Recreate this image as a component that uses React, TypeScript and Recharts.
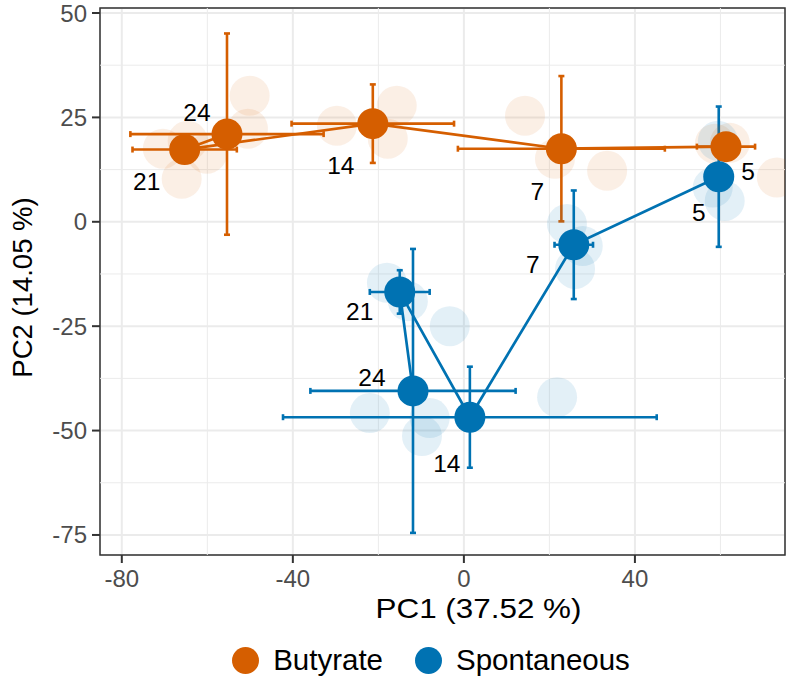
import {
  CartesianGrid,
  ErrorBar,
  Label,
  Legend,
  ReferenceArea,
  ReferenceLine,
  Scatter,
  ScatterChart,
  XAxis,
  YAxis,
} from "recharts";

// sampling days, same order for both groups
const days = [5, 7, 14, 21, 24];

// group means (PC1, PC2) with error bar half-widths
const butyrateX = [61.3, 22.8, -21.3, -65.3, -55.4];
const butyrateY = [18.0, 17.5, 23.5, 17.3, 21.0];
const butyrateXErr = [6.8, 24.2, 19.0, 12.2, 22.6];
const butyrateYErr = [2.0, 17.4, 9.4, 2.0, 24.1];

const spontaneousX = [59.6, 25.7, 1.4, -15.0, -11.9];
const spontaneousY = [10.8, -5.5, -46.8, -16.8, -40.5];
const spontaneousXErr = [2.0, 4.5, 43.7, 7.0, 24.0];
const spontaneousYErr = [16.8, 13.0, 12.1, 5.2, 34.0];

// individual replicates (faint points)
const butyrateRepX = [-70.4, -66.0, -64.6, -50.1, -50.5, -60.1, -29.7, -15.7, -17.8, 14.3, 21.3, 33.5, 73.2, 62.2, 58.7];
const butyrateRepY = [17.5, 10.3, 19.4, 30.2, 22.3, 16.3, 23.0, 27.8, 19.9, 25.4, 15.1, 12.2, 10.6, 18.9, 18.7];
const spontaneousRepX = [59.4, 61.0, 58.2, 24.1, 26.0, 27.8, -18.0, -13.1, -3.3, -22.0, -8.0, -9.8, 21.8];
const spontaneousRepY = [19.4, 5.0, 8.2, -0.5, -11.3, -5.8, -14.6, -19.0, -25.0, -45.8, -47.0, -51.3, -42.0];

const xTicks = [-80, -40, 0, 40];
const yTicks = [-75, -50, -25, 0, 25, 50];
const xMinor = [-60, -20, 20, 60];
const yMinor = [-62.5, -37.5, -12.5, 12.5, 37.5];
const xDomain = [-85.1, 75.1];
const yDomain = [-79.8, 51.2];

const ORANGE = "#D55E00";
const BLUE = "#0072B2";
const FONT = "'Liberation Sans', Arial, Helvetica, sans-serif";

// where each day label sits relative to its point (ggrepel-like)
const labelOffset: Record<string, [number, number]> = {
  "b-5": [22, 25],
  "b-7": [-24, 43],
  "b-14": [-32, 42],
  "b-21": [-38, 32],
  "b-24": [-30, -22],
  "s-5": [-20, 36],
  "s-7": [-41, 20],
  "s-14": [-23, 46],
  "s-21": [-40, 20],
  "s-24": [-41, -13],
};

const toMeans = (xs: number[], ys: number[], ex: number[], ey: number[]) =>
  days.map((day, i) => ({ day, x: xs[i], y: ys[i], ex: ex[i], ey: ey[i] }));
const toReps = (xs: number[], ys: number[]) => xs.map((x, i) => ({ x, y: ys[i] }));

const butyrate = toMeans(butyrateX, butyrateY, butyrateXErr, butyrateYErr);
const spontaneous = toMeans(spontaneousX, spontaneousY, spontaneousXErr, spontaneousYErr);
const butyrateReps = toReps(butyrateRepX, butyrateRepY);
const spontaneousReps = toReps(spontaneousRepX, spontaneousRepY);

const dot = (r: number, color: string, opacity = 1) => (p: any) =>
  <circle cx={p.cx} cy={p.cy} r={r} fill={color} fillOpacity={opacity} />;

const dayLabel = (group: string) => (p: any) => {
  const [dx, dy] = labelOffset[`${group}-${p.payload.day}`] || [0, 0];
  return (
    <text x={p.cx + dx} y={p.cy + dy} textAnchor="middle" dominantBaseline="central"
      fontSize={24.5} fontFamily={FONT} fill="#000">
      {p.payload.day}
    </text>
  );
};

const legendItems = [
  { name: "Butyrate", color: ORANGE },
  { name: "Spontaneous", color: BLUE },
];

function LegendBox() {
  return (
    <div style={{ height: 60, display: "flex", justifyContent: "center", alignItems: "center", gap: 32, paddingLeft: 77, paddingTop: 4, boxSizing: "border-box", fontFamily: FONT }}>
      {legendItems.map((it) => (
        <div key={it.name} style={{ display: "flex", alignItems: "center", gap: 14 }}>
          <span style={{ width: 27, height: 27, borderRadius: "50%", background: it.color, display: "inline-block" }} />
          <span style={{ fontSize: 29.5, lineHeight: "32px", color: "#000" }}>{it.name}</span>
        </div>
      ))}
    </div>
  );
}

const yTitle = (props: any) => {
  const vb = props.viewBox;
  const cx = vb.x + 22;
  const cy = vb.y + vb.height / 2 + 6;
  return (
    <text x={cx} y={cy} transform={`rotate(-90, ${cx}, ${cy})`} textAnchor="middle"
      dominantBaseline="central" fontSize={27.5} fontFamily={FONT} fill="#000">
      PC2 (14.05 %)
    </text>
  );
};

const xTitle = (props: any) => {
  const vb = props.viewBox;
  return (
    <text x={vb.x + vb.width / 2 + 36} y={vb.y + 53} textAnchor="middle" dominantBaseline="central"
      fontSize={27.5} textLength={206} lengthAdjust="spacingAndGlyphs" fontFamily={FONT} fill="#000">
      PC1 (37.52 %)
    </text>
  );
};

const tickStyle = { fontSize: 24, fill: "#4D4D4D", fontFamily: FONT };

export default function App() {
  return (
    <div style={{ width: 788, height: 688 }}>
      <style>{"body{margin:0}"}</style>
      <ScatterChart width={788} height={688} margin={{ top: 8, right: 3, bottom: 0, left: 0 }}>
        <CartesianGrid stroke="#EBEBEB" strokeWidth={2} />
        {xMinor.map((v) => (
          <ReferenceLine key={`vx${v}`} x={v} stroke="#EBEBEB" strokeWidth={1} />
        ))}
        {yMinor.map((v) => (
          <ReferenceLine key={`hy${v}`} y={v} stroke="#EBEBEB" strokeWidth={1} />
        ))}
        <XAxis type="number" dataKey="x" domain={xDomain} ticks={xTicks} allowDataOverflow
          height={73} axisLine={false} tickSize={8} tickMargin={7}
          tickLine={{ stroke: "#333333", strokeWidth: 2 }} tick={tickStyle}>
          <Label content={xTitle} />
        </XAxis>
        <YAxis type="number" dataKey="y" domain={yDomain} ticks={yTicks} allowDataOverflow
          width={100} axisLine={false} tickSize={8} tickMargin={5}
          tickLine={{ stroke: "#333333", strokeWidth: 2 }} tick={tickStyle}>
          <Label content={yTitle} />
        </YAxis>
        <Legend verticalAlign="bottom" height={60} content={() => <LegendBox />} />

        <Scatter name="butyrate-reps" data={butyrateReps} shape={dot(20, ORANGE, 0.1)} legendType="none" isAnimationActive={false} />
        <Scatter name="spontaneous-reps" data={spontaneousReps} shape={dot(20, BLUE, 0.11)} legendType="none" isAnimationActive={false} />

        <Scatter name="Butyrate" data={butyrate} shape={dot(15.5, ORANGE)} line={{ stroke: ORANGE, strokeWidth: 2.7 }}
          lineType="joint" isAnimationActive={false}>
          <ErrorBar dataKey="ex" direction="x" width={3} stroke={ORANGE} strokeWidth={2.6} isAnimationActive={false} />
          <ErrorBar dataKey="ey" direction="y" width={3} stroke={ORANGE} strokeWidth={2.6} isAnimationActive={false} />
        </Scatter>
        <Scatter name="Spontaneous" data={spontaneous} shape={dot(15.5, BLUE)} line={{ stroke: BLUE, strokeWidth: 2.7 }}
          lineType="joint" isAnimationActive={false}>
          <ErrorBar dataKey="ex" direction="x" width={3} stroke={BLUE} strokeWidth={2.6} isAnimationActive={false} />
          <ErrorBar dataKey="ey" direction="y" width={3} stroke={BLUE} strokeWidth={2.6} isAnimationActive={false} />
        </Scatter>

        <Scatter name="butyrate-labels" data={butyrate} shape={dayLabel("b")} legendType="none" isAnimationActive={false} />
        <Scatter name="spontaneous-labels" data={spontaneous} shape={dayLabel("s")} legendType="none" isAnimationActive={false} />

        <ReferenceArea x1={xDomain[0]} x2={xDomain[1]} y1={yDomain[0]} y2={yDomain[1]}
          fill="none" stroke="#333333" strokeWidth={1.5} />
      </ScatterChart>
    </div>
  );
}
